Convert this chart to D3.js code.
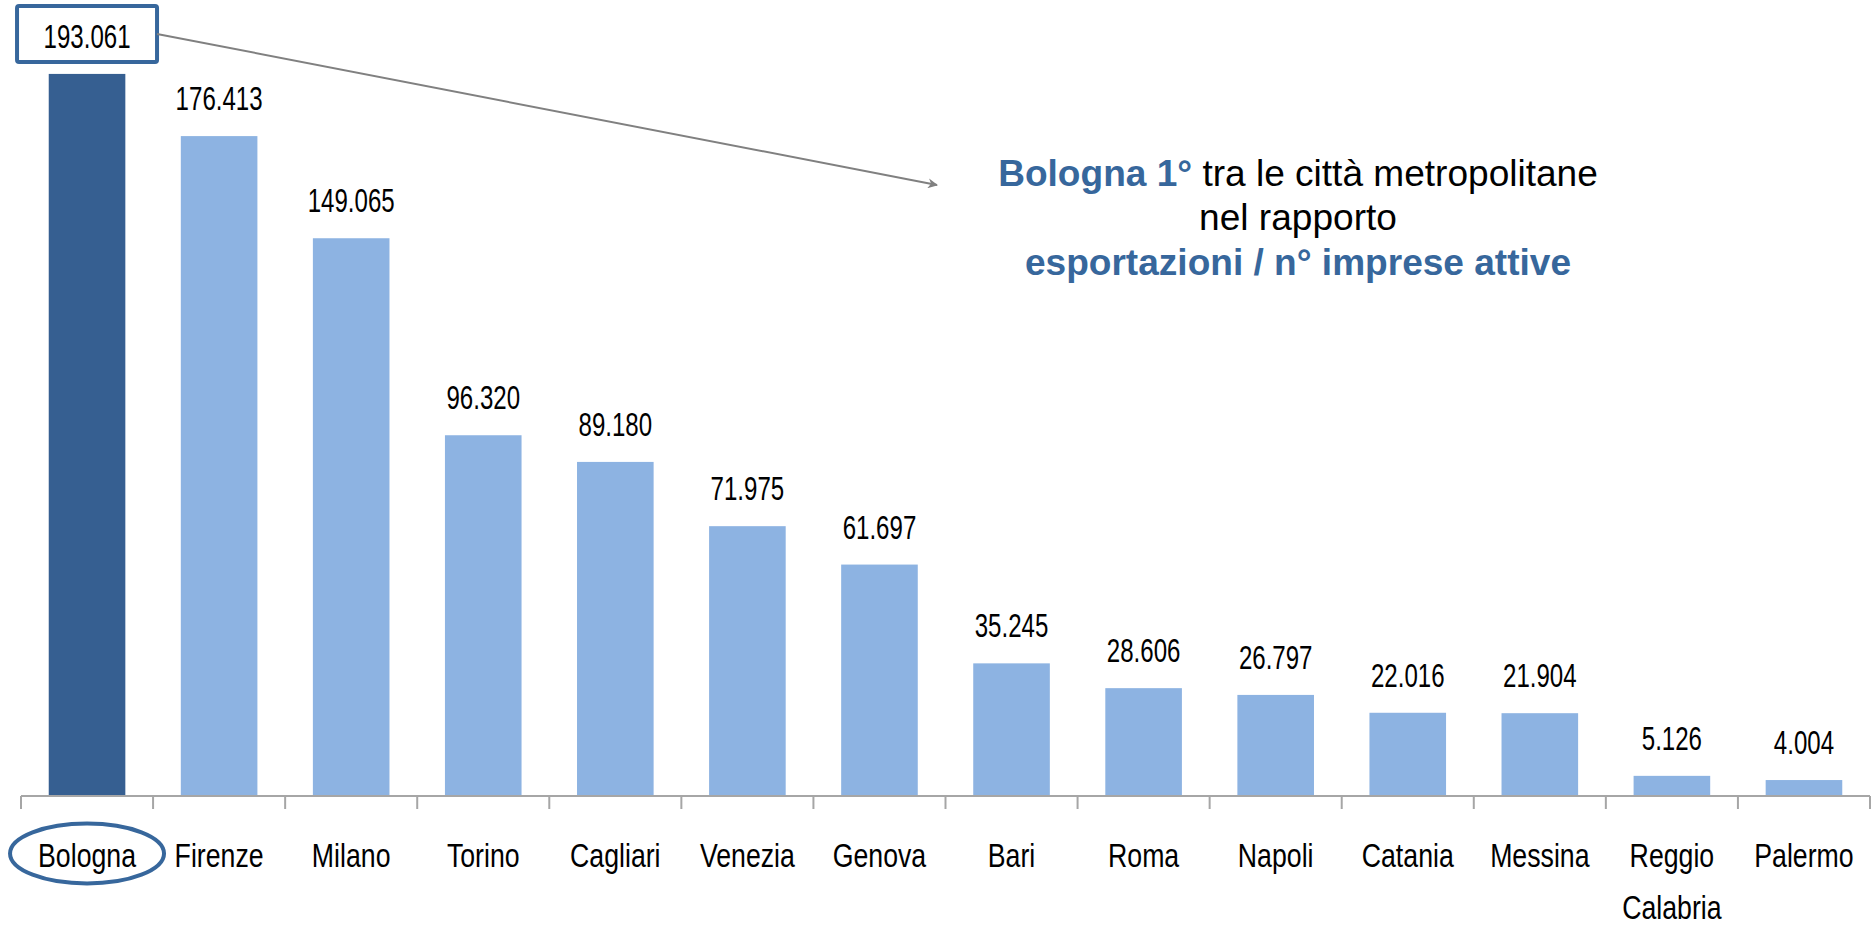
<!DOCTYPE html>
<html>
<head>
<meta charset="utf-8">
<script src="https://cdn.jsdelivr.net/npm/d3@7"></script>
<style>
  html, body { margin: 0; padding: 0; background: #fff; }
  svg { display: block; }
</style>
</head>
<body>
<div id="chart"></div>
<script>
// values (esportazioni / n° imprese attive)
var cities = ["Bologna", "Firenze", "Milano", "Torino", "Cagliari", "Venezia", "Genova",
              "Bari", "Roma", "Napoli", "Catania", "Messina", "Reggio Calabria", "Palermo"];
var ratio = [193061, 176413, 149065, 96320, 89180, 71975, 61697,
             35245, 28606, 26797, 22016, 21904, 5126, 4004];
var tickLabels = [["Bologna"], ["Firenze"], ["Milano"], ["Torino"], ["Cagliari"], ["Venezia"], ["Genova"],
                  ["Bari"], ["Roma"], ["Napoli"], ["Catania"], ["Messina"], ["Reggio", "Calabria"], ["Palermo"]];
var highlight = "Bologna";
var noteLines = [
  [{t: "Bologna 1°", b: true}, {t: " tra le città metropolitane", b: false}],
  [{t: "nel rapporto", b: false}],
  [{t: "esportazioni / n° imprese attive", b: true}]
];

var W = 1872, H = 927;
var base = 795, left = 21, right = 1870;
var darkBlue = "#365f91", lightBlue = "#8db3e2", textBlue = "#37679c";
var labelFont = "'Liberation Sans Narrow', 'Liberation Sans', Arial, sans-serif";
var noteFont = "'Liberation Sans', Arial, sans-serif";

var it = d3.formatLocale({decimal: ",", thousands: ".", grouping: [3], currency: ["€", ""]});
var fmt = it.format(",d");

var svg = d3.select("#chart").append("svg")
  .attr("width", W)
  .attr("height", H);

var x = d3.scaleBand()
  .domain(cities)
  .range([left, right])
  .paddingInner(0.42)
  .paddingOuter(0.21);

var y = d3.scaleLinear()
  .domain([0, 200000])
  .range([base, 48]);

// measure the fonts once, so the narrow look of the original can be matched
function measure(font, size, parts) {
  var t = svg.append("text").attr("font-family", font).attr("font-size", size);
  parts.forEach(function(s) {
    t.append("tspan").attr("font-weight", s.b ? "bold" : "normal").text(s.t);
  });
  var w = t.node().getComputedTextLength();
  t.remove();
  return w;
}
var valSx = 87 / measure(labelFont, 33, [{t: "176.413"}]);
var catSx = 98 / measure(labelFont, 33, [{t: "Bologna"}]);
var noteSx = 600 / measure(noteFont, 37, noteLines[0]);

// bars
svg.selectAll("rect.bar")
  .data(cities)
  .enter()
  .append("rect")
    .attr("class", "bar")
    .attr("x", function(d) { return x(d); })
    .attr("y", function(d, i) { return y(ratio[i]); })
    .attr("width", x.bandwidth())
    .attr("height", function(d, i) { return base - y(ratio[i]); })
    .attr("fill", function(d) { return d === highlight ? darkBlue : lightBlue; });

// axis line + ticks at category boundaries
var step = x.step();
var bounds = d3.range(cities.length + 1).map(function(i) { return left + i * step; });
svg.append("line")
  .attr("x1", left).attr("x2", right)
  .attr("y1", base + 1).attr("y2", base + 1)
  .attr("stroke", "#a6a6a6")
  .attr("stroke-width", 2);
svg.selectAll("line.tick")
  .data(bounds)
  .enter()
  .append("line")
    .attr("class", "tick")
    .attr("x1", function(d) { return d; })
    .attr("x2", function(d) { return d; })
    .attr("y1", base + 1)
    .attr("y2", base + 14)
    .attr("stroke", "#a6a6a6")
    .attr("stroke-width", 2);

// value labels
svg.selectAll("text.val")
  .data(cities)
  .enter()
  .append("text")
    .attr("class", "val")
    .attr("transform", function(d, i) {
      return "translate(" + (x(d) + x.bandwidth() / 2) + "," + (y(ratio[i]) - 26) + ") scale(" + valSx + ",1)";
    })
    .attr("text-anchor", "middle")
    .attr("font-family", labelFont)
    .attr("font-size", 33)
    .attr("fill", "#000")
    .text(function(d, i) { return fmt(ratio[i]); });

// category labels
var cat = svg.selectAll("text.cat")
  .data(cities)
  .enter()
  .append("text")
    .attr("class", "cat")
    .attr("transform", function(d) {
      return "translate(" + (x(d) + x.bandwidth() / 2) + "," + 867 + ") scale(" + catSx + ",1)";
    })
    .attr("text-anchor", "middle")
    .attr("font-family", labelFont)
    .attr("font-size", 33)
    .attr("fill", "#000");
cat.each(function(d, i) {
  var t = d3.select(this);
  tickLabels[i].forEach(function(line, j) {
    t.append("tspan").attr("x", 0).attr("y", j * 52).text(line);
  });
});

// highlight marks for Bologna: box round the value, ellipse round the name
var hi = cities.indexOf(highlight);
var hx = x(highlight) + x.bandwidth() / 2;
var hy = y(ratio[hi]) - 26;
svg.append("rect")
  .attr("x", hx - 70).attr("y", hy - 42)
  .attr("width", 140).attr("height", 56)
  .attr("rx", 2)
  .attr("fill", "none")
  .attr("stroke", textBlue)
  .attr("stroke-width", 4);
svg.append("ellipse")
  .attr("cx", hx).attr("cy", 853.5)
  .attr("rx", 77).attr("ry", 30)
  .attr("fill", "none")
  .attr("stroke", textBlue)
  .attr("stroke-width", 4);

// arrow to the note
svg.append("defs").append("marker")
  .attr("id", "arrow")
  .attr("viewBox", "0 0 10 10")
  .attr("refX", 9).attr("refY", 5)
  .attr("markerWidth", 10).attr("markerHeight", 10)
  .attr("markerUnits", "userSpaceOnUse")
  .attr("orient", "auto")
  .append("path")
    .attr("d", "M0,0 L10,5 L0,10 L3,5 z")
    .attr("fill", "#808080");
svg.append("line")
  .attr("x1", hx + 70).attr("y1", hy - 14)
  .attr("x2", 937).attr("y2", 185)
  .attr("stroke", "#808080")
  .attr("stroke-width", 2)
  .attr("marker-end", "url(#arrow)");

// note text
var noteBase = [186, 230, 275];
noteLines.forEach(function(line, i) {
  var t = svg.append("text")
    .attr("transform", "translate(1298," + noteBase[i] + ") scale(" + noteSx + ",1)")
    .attr("text-anchor", "middle")
    .attr("font-family", noteFont)
    .attr("font-size", 37);
  line.forEach(function(s) {
    t.append("tspan")
      .attr("font-weight", s.b ? "bold" : "normal")
      .attr("fill", s.b ? textBlue : "#000")
      .text(s.t);
  });
});
</script>
</body>
</html>
